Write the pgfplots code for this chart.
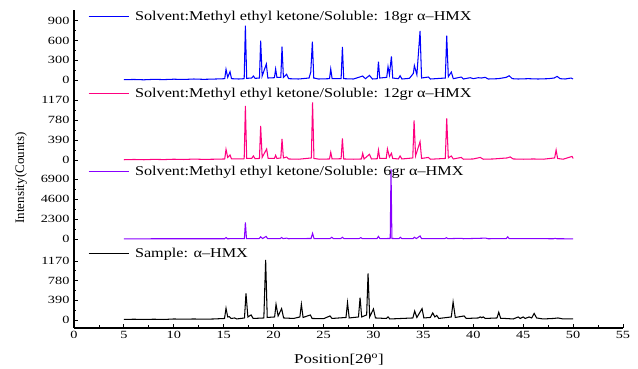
\documentclass[border=0pt]{standalone}
\usepackage{fontspec}
\setmainfont{Liberation Serif}
\usepackage{graphicx}
\usepackage{pgfplots}
\pgfplotsset{compat=1.18}
\definecolor{cblue}{RGB}{0,0,255}
\definecolor{cpink}{RGB}{255,0,128}
\definecolor{cpurple}{RGB}{136,0,255}
\newcommand{\legfont}{\fontsize{13.5}{15}\selectfont}
\pgfplotsset{
  panel/.style={
    scale only axis, width=549pt, xmin=0, xmax=55,
    axis line style={-, line width=1.1pt},
    tick align=inside, major tick length=4pt, minor tick length=2.5pt,
    minor y tick num=1,
    tick style={line width=0.9pt, black},
    yticklabel style={font=\fontsize{11}{12}\selectfont, xscale=1.3},
    xticklabel style={font=\fontsize{11}{12}\selectfont, xscale=1.3},
    /pgf/number format/assume math mode=true,
    /pgf/number format/1000 sep={},
    scaled y ticks=false, clip=false,
    legend style={draw=none, fill=none, inner sep=0pt, outer sep=0pt,
      anchor=west, nodes={inner sep=0pt, anchor=west}, column sep=6pt,
      font=\legfont},
    legend image code/.code={\draw[#1] (0pt,0pt) -- (40pt,0pt);},
    every axis plot/.append style={line width=1.05pt},
  },
  toppanel/.style={panel, axis y line*=left, axis x line=none},
}
\begin{document}
\begin{tikzpicture}
\useasboundingbox (-74pt,-41pt) rectangle (564pt,328pt);
% Panel 1: 18gr
\begin{axis}[toppanel, at={(0,238pt)}, height=80pt, ymin=-152, ymax=1064,
  ytick={0,300,600,900},
  legend style={at={(axis description cs:0.0255,0.916)}}]
\addplot[cblue] coordinates {
(5,5) (6,8) (7,3) (8,10) (9,6) (10,12) (11,8) (12,15) (13,10) (14,14) (14.8,18)
(15.1,20) (15.23,163) (15.4,40) (15.63,126) (15.78,20) (16.5,15) (17.05,20) (17.17,825) (17.3,25)
(17.8,30) (17.97,60) (18.15,25) (18.58,30) (18.7,597) (18.85,60) (19.27,243) (19.42,30)
(20.08,35) (20.2,167) (20.33,40) (20.72,40) (20.84,506) (20.98,40) (21.3,87) (21.5,20)
(22.5,15) (23.55,30) (23.72,120) (23.88,583) (24.02,30) (24.5,15) (25.6,20) (25.72,167) (25.86,20)
(26.76,20) (26.89,502) (27.02,20) (28.0,15) (28.92,60) (29.2,20) (29.6,70) (29.9,15)
(30.38,20) (30.5,278) (30.63,30) (31.33,40) (31.46,203) (31.6,80) (31.8,360) (31.93,30)
(32.5,20) (32.67,65) (32.85,15) (33.6,25) (34.0,100) (34.1,218) (34.35,80) (34.67,745) (34.82,30)
(35.5,45) (35.7,15) (37.2,30) (37.34,673) (37.5,50) (37.8,120) (38.0,20) (38.8,45) (39.0,15)
(39.7,35) (40.0,20) (40.5,35) (40.8,30) (41.2,40) (41.5,15) (42.5,20) (43.3,40) (43.6,65) (43.9,20)
(44.5,15) (45.5,20) (46.5,15) (47.5,20) (48.1,30) (48.4,55) (48.7,20) (49.2,15) (49.8,30) (50,15)
};
\addlegendentry{\scalebox{1.2}[1]{Solvent:Methyl ethyl ketone/Soluble: 18gr α–HMX}}
\end{axis}
% Panel 2: 12gr
\begin{axis}[toppanel, at={(0,158pt)}, height=80pt, ymin=-195, ymax=1365,
  ytick={0,390,780,1170},
  legend style={at={(axis description cs:0.0255,0.959)}}]
\addplot[cpink] coordinates {
(5,5) (6,10) (7,5) (8,12) (9,8) (10,15) (11,10) (12,18) (13,12) (14,15) (15.1,20)
(15.23,208) (15.4,50) (15.63,98) (15.78,20) (16.8,20) (17.05,25) (17.17,1053) (17.3,30)
(17.8,30) (17.97,78) (18.15,25) (18.58,30) (18.7,663) (18.85,50) (19.3,214) (19.45,30)
(20.08,30) (20.2,91) (20.33,30) (20.72,40) (20.84,410) (20.98,40) (21.3,58) (21.5,20)
(22.5,15) (23.78,40) (23.9,1125) (24.04,30) (24.6,15) (25.6,20) (25.72,150) (25.86,20)
(26.76,25) (26.89,423) (27.02,20) (28.0,15) (28.8,20) (28.92,130) (29.06,20) (29.6,111) (29.8,20)
(30.38,25) (30.5,195) (30.63,30) (31.28,30) (31.4,214) (31.6,60) (31.8,130) (31.93,30)
(32.5,20) (32.67,78) (32.85,20) (33.94,40) (34.07,774) (34.22,80) (34.67,358) (34.82,30)
(35.5,50) (35.7,15) (37.2,30) (37.34,812) (37.5,40) (37.8,78) (38.0,20) (38.8,50) (39.0,15)
(40.0,20) (40.7,50) (41.0,15) (42,20) (43.4,40) (43.7,60) (44.0,20) (45,15) (46,20) (47,15)
(48.15,40) (48.3,195) (48.45,30) (49.0,15) (49.9,70) (50,30)
};
\addlegendentry{\scalebox{1.2}[1]{Solvent:Methyl ethyl ketone/Soluble: 12gr α–HMX}}
\end{axis}
% Panel 3: 6gr
\begin{axis}[toppanel, at={(0,78pt)}, height=80pt, ymin=-1265, ymax=7935,
  ytick={0,2300,4600,6900},
  legend style={at={(axis description cs:0.0255,0.979)}}]
\addplot[cpurple] coordinates {
(5,20) (10,30) (15.1,30) (15.23,170) (15.36,30) (17.07,40) (17.17,1920) (17.28,40)
(18.55,50) (18.7,250) (18.9,50) (19.24,300) (19.4,40) (20.65,40) (20.8,170) (20.95,40)
(21.3,100) (21.5,30) (23.75,60) (23.9,650) (24.05,40) (25.65,40) (25.82,200) (26.0,40)
(26.72,40) (26.89,200) (27.05,40) (28.55,40) (28.73,150) (28.9,40) (30.35,40) (30.5,300) (30.65,40)
(31.68,60) (31.76,8000) (31.85,60) (32.55,40) (32.7,200) (32.85,40) (33.95,40) (34.1,200) (34.3,50)
(34.67,350) (34.82,40) (37.15,40) (37.3,150) (37.45,40) (38.85,80) (39.0,30) (41.25,100) (41.5,30)
(43.3,40) (43.45,250) (43.6,40) (48.05,30) (48.2,80) (48.35,30) (50,20)
};
\addlegendentry{\scalebox{1.2}[1]{Solvent:Methyl ethyl ketone/Soluble: 6gr α–HMX}}
\end{axis}
% Panel 4: sample
\begin{axis}[panel, at={(0,0pt)}, height=78pt, ymin=-159, ymax=1388,
  ytick={0,390,780,1170},
  axis y line*=left, axis x line*=bottom, xtick={0,5,...,55}, minor x tick num=1,
  legend style={at={(axis description cs:0.0255,0.958)}}]
\addplot[black] coordinates {
(5,10) (6,15) (7,10) (8,15) (9,10) (10,20) (11,15) (12,20) (13,15) (14,20) (15.08,30)
(15.23,232) (15.4,60) (15.56,66) (15.75,30) (16.1,40) (16.3,20) (17.08,40) (17.23,529) (17.42,60)
(17.74,100) (17.95,30) (19.02,40) (19.2,1190) (19.36,50) (20.1,60) (20.24,311) (20.45,80) (20.8,225)
(21.0,40) (22.0,30) (22.63,60) (22.78,311) (22.95,50) (23.68,100) (23.85,30) (25.0,25) (25.65,80)
(25.85,30) (27.25,50) (27.4,344) (27.57,40) (28.5,60) (28.66,443) (28.82,60) (29.32,100) (29.46,926)
(29.62,60) (30.0,218) (30.2,40) (31.3,30) (31.46,60) (31.65,20) (33.95,40) (34.13,178) (34.35,50)
(34.87,225) (35.05,40) (35.7,50) (35.94,140) (36.15,60) (36.34,90) (36.55,30) (37.8,60) (37.98,357)
(38.2,50) (39.08,80) (39.3,30) (40.5,40) (40.7,60) (40.85,45) (41.0,60) (41.2,30) (42.38,40)
(42.55,153) (42.75,30) (43.2,30) (44.0,20) (44.5,60) (44.7,30) (45.0,60) (45.2,30) (45.6,60)
(45.85,40) (46.1,130) (46.35,40) (47.0,20) (48.0,30) (48.5,40) (49.0,20) (50,20)
};
\addlegendentry{\scalebox{1.2}[1]{Sample: α–HMX}}
\end{axis}
\node[rotate=90, font=\fontsize{13}{14}\selectfont] at (-53pt,150pt) {Intensity(Counts)};
\node[font=\fontsize{13.5}{15}\selectfont, xscale=1.25] at (265pt,-32pt) {Position[2θ\textsuperscript{o}]};
\end{tikzpicture}
\end{document}
